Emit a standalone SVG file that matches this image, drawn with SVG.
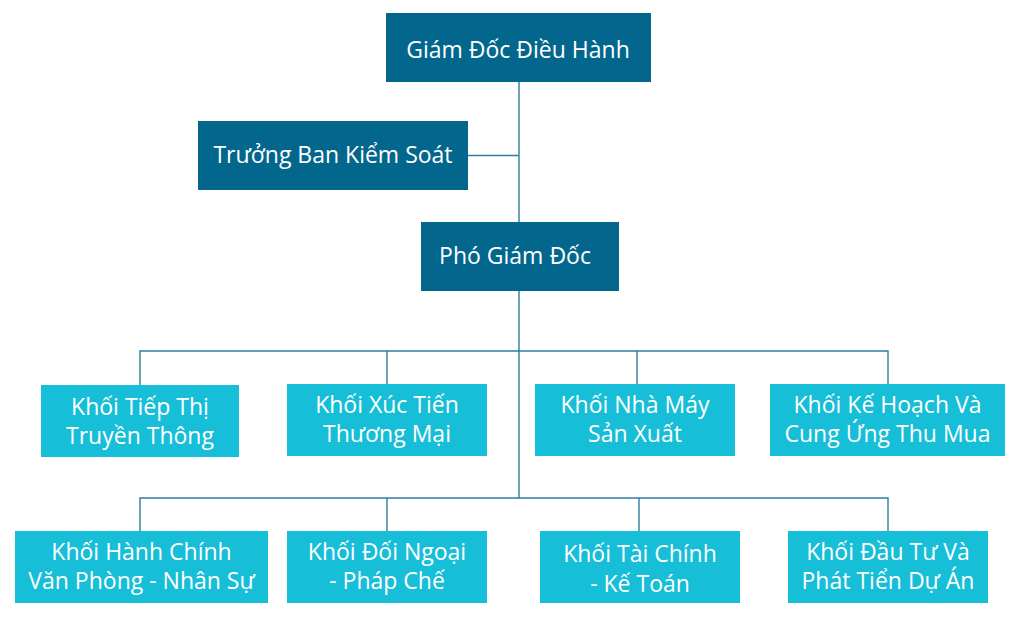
<svg xmlns="http://www.w3.org/2000/svg" width="1018" height="621" viewBox="0 0 1018 621">
<style>
.dark{fill:#03678D}
.light{fill:#17BED8}
text{font-family:"Open Sans","Noto Sans","DejaVu Sans",sans-serif;font-size:23px;fill:#FFFFFF;text-anchor:middle}
.conn{stroke:#2D7D9E;stroke-width:1.4;fill:none}
</style>
<rect width="1018" height="621" fill="#FFFFFF"/>
<g id="connectors">
<path class="conn" d="M519,82V498"/>
<path class="conn" d="M468,155.5H519"/>
<path class="conn" d="M140,385V351H888V384M387,351V384M637,351V384"/>
<path class="conn" d="M140,531V498H888V531M387,498V531M639,498V531"/>
</g>
<g id="giam-doc"><rect class="dark" x="386" y="13" width="265" height="69"/><text x="518" y="58" font-size="22.5">Giám Đốc Điều Hành</text></g>
<g id="truong-ban"><rect class="dark" x="198" y="121" width="270" height="69"/><text x="333" y="163">Trưởng Ban Kiểm Soát</text></g>
<g id="pho-giam-doc"><rect class="dark" x="421" y="222" width="198" height="69"/><text x="515" y="264">Phó Giám Đốc</text></g>
<g id="tiep-thi"><rect class="light" x="41" y="385" width="198" height="72"/><text x="140" y="415">Khối Tiếp Thị</text><text x="140" y="444">Truyền Thông</text></g>
<g id="xuc-tien"><rect class="light" x="287" y="384" width="200" height="72"/><text x="387" y="413">Khối Xúc Tiến</text><text x="387" y="442">Thương Mại</text></g>
<g id="nha-may"><rect class="light" x="535" y="384" width="200" height="72"/><text x="635" y="413">Khối Nhà Máy</text><text x="635" y="442">Sản Xuất</text></g>
<g id="ke-hoach"><rect class="light" x="770" y="384" width="235" height="72"/><text x="887.5" y="413">Khối Kế Hoạch Và</text><text x="887.5" y="442">Cung Ứng Thu Mua</text></g>
<g id="hanh-chinh"><rect class="light" x="15" y="531" width="253" height="72"/><text x="141.5" y="560">Khối Hành Chính</text><text x="141.5" y="589">Văn Phòng - Nhân Sự</text></g>
<g id="doi-ngoai"><rect class="light" x="287" y="531" width="200" height="72"/><text x="387" y="560">Khối Đối Ngoại</text><text x="387" y="589">- Pháp Chế</text></g>
<g id="tai-chinh"><rect class="light" x="540" y="531" width="200" height="72"/><text x="640" y="562">Khối Tài Chính</text><text x="640" y="592">- Kế Toán</text></g>
<g id="dau-tu"><rect class="light" x="788" y="531" width="200" height="72"/><text x="888" y="560">Khối Đầu Tư Và</text><text x="888" y="589">Phát Tiển Dự Án</text></g>
</svg>
